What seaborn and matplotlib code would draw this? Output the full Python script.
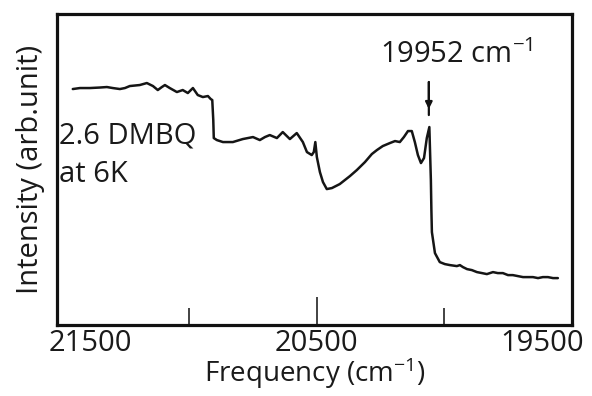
import matplotlib
matplotlib.use("Agg")
import matplotlib.pyplot as plt
import seaborn as sns
import pandas as pd

# Spectrum (frequency in cm^-1, intensity in arbitrary units)
frequency = [21458, 21430, 21391, 21352, 21324, 21301, 21273, 21253, 21234, 21195,
             21167, 21143, 21124, 21108, 21096, 21077, 21049, 21026, 21006, 20986,
             20967, 20947, 20927, 20916, 20910, 20906, 20904, 20892, 20868, 20829,
             20790, 20750, 20723, 20703, 20684, 20656, 20633, 20605, 20578, 20554,
             20538, 20519, 20511, 20505, 20499, 20487, 20475, 20460, 20440, 20409,
             20369, 20342, 20310, 20283, 20263, 20240, 20212, 20192, 20173, 20157,
             20141, 20126, 20114, 20102, 20090, 20078, 20067, 20057, 20051, 20049,
             20047, 20035, 20016, 19996, 19976, 19949, 19937, 19925, 19909, 19890,
             19870, 19850, 19831, 19819, 19807, 19788, 19768, 19748, 19729, 19709,
             19689, 19670, 19650, 19630, 19611, 19591, 19571, 19552]
intensity = [236, 237, 237, 237.5, 238, 237, 236, 237, 239, 240,
             242, 239, 235, 238, 240, 237, 233, 235, 232, 237,
             230, 228, 229, 226, 225, 205, 187, 185, 183, 183,
             186, 188, 185, 188, 190, 187, 193, 186, 192, 183,
             173, 170, 173, 183, 168, 153, 143, 136, 137, 141,
             149, 155, 163, 171, 175, 179, 182, 184, 183, 188,
             194, 194, 183, 170, 162, 167, 187, 198, 145, 115,
             93, 72, 63, 61, 60, 59, 60, 58, 56, 55,
             53, 52, 51, 52, 53, 52, 52, 50, 50, 49,
             48, 48, 48, 47, 48, 48, 47, 47]

tick_label_text = ["21500", "20500", "19500"]
minor_tick_values = [21000, 20000]
long_tick_values = [20500]
peak_label = "19952 cm$^{-1}$"
peak_position = 20059
sample_lines = ["2.6 DMBQ", "at 6K"]

df = pd.DataFrame({"Frequency": frequency, "Intensity": intensity})

sns.set_style("white")
plt.rcParams["font.family"] = ["Open Sans", "DejaVu Sans"]
plt.rcParams["mathtext.fontset"] = "custom"
plt.rcParams["mathtext.rm"] = "Open Sans"
plt.rcParams["mathtext.default"] = "regular"

FS = 21
TXT = "#1a1a1a"
fig = plt.figure(figsize=(5.92, 3.96), dpi=100)
ax = fig.add_axes([0.0963, 0.179, 0.966 - 0.0963, 0.9646 - 0.179])

sns.lineplot(data=df, x="Frequency", y="Intensity", sort=False, estimator=None,
             color="#151515", linewidth=1.8, ax=ax)

ax.set_xlim(21520, 19497)
ax.set_ylim(0, 311)

for s in ax.spines.values():
    s.set_linewidth(2.3)
    s.set_color("#111111")

# label positions (labels in the original are set in from the axis ends)
label_positions = [21387, 20500, 19615]
ax.set_xticks(label_positions, labels=tick_label_text)
ax.set_xticks(minor_tick_values, minor=True)
ax.tick_params(axis="x", which="both", bottom=True)
ax.tick_params(axis="x", which="major", length=0, pad=3, labelsize=FS, labelcolor=TXT)
ax.tick_params(axis="x", which="minor", direction="in", length=12, width=1.2, color="#222222")
sec = ax.secondary_xaxis("bottom")
sec.set_xticks(long_tick_values, labels=[""] * len(long_tick_values))
sec.tick_params(bottom=True, direction="in", length=20, width=1.2, color="#222222")
sec.spines["bottom"].set_visible(False)

ax.set_yticks([])
ax.set_xlabel("Frequency (cm$^{-1}$)", fontsize=20, color=TXT, labelpad=-2)
ax.set_ylabel("Intensity (arb.unit)", fontsize=FS, color=TXT, labelpad=9)

ax.text(21512, 182, sample_lines[0], fontsize=FS, ha="left", va="baseline", color=TXT)
ax.text(21512, 143, sample_lines[1], fontsize=FS, ha="left", va="baseline", color=TXT)

ax.annotate("", xy=(peak_position, 216), xytext=(peak_position, 243),
            arrowprops=dict(arrowstyle="-|>", color="#111111", lw=1.6, mutation_scale=10,
                            shrinkA=0, shrinkB=0))
ax.annotate("", xy=(peak_position, 210), xytext=(peak_position, 243),
            arrowprops=dict(arrowstyle="-", color="#111111", lw=1.6, shrinkA=0, shrinkB=0))
ax.text(19950, 262, peak_label, fontsize=FS, ha="center", va="baseline", color=TXT)

fig.savefig("out.png", dpi=100, facecolor="white")
